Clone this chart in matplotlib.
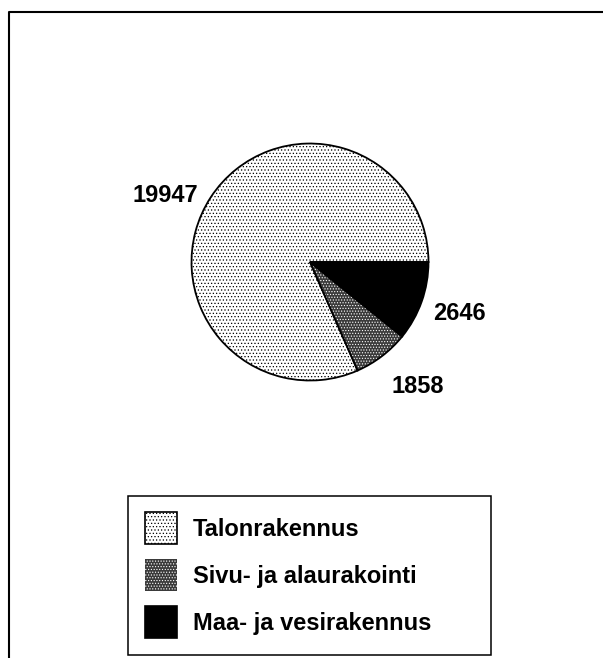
import numpy as np
import matplotlib
matplotlib.use("Agg")
import matplotlib.pyplot as plt
import matplotlib.patches as mpatches
from matplotlib.lines import Line2D

plt.rcParams["font.family"] = ["Liberation Sans", "DejaVu Sans"]
plt.rcParams["hatch.linewidth"] = 0.5

# data
categories = ["Talonrakennus", "Sivu- ja alaurakointi", "Maa- ja vesirakennus"]
values = [19947, 1858, 2646]
value_labels = ["19947", "1858", "2646"]

fills = ["white", "#3a3a3a", "black"]
hatches = [".....", "......", None]
# where the numbers sit (pie data coords, x / baseline y)
label_xy = [(-0.945, 0.506), (0.692, -1.105), (1.038, -0.489)]
label_ha = ["right", "left", "left"]

fig = plt.figure(figsize=(6.03, 6.58), dpi=100)
ax = fig.add_axes([0.3176, 0.4217, 0.3930, 0.3602])

wedges, _ = ax.pie(values, colors=fills, startangle=0, counterclock=True,
                   wedgeprops=dict(edgecolor="black", linewidth=1.3))
for w, h in zip(wedges, hatches):
    if h:
        w.set_hatch(h)

# gray slice gets white dots -> hatch colour follows edgecolor, so redraw outline
g = wedges[1]
g.set_edgecolor("white")
g.set_linewidth(0)
ax.add_patch(mpatches.Wedge(g.center, g.r, g.theta1, g.theta2, fill=False,
                            edgecolor="black", linewidth=1.3))

ax.set_xlim(-1, 1)
ax.set_ylim(-1, 1)
ax.set_aspect("equal")
ax.axis("off")

for (x, y), txt, ha in zip(label_xy, value_labels, label_ha):
    ax.text(x, y, txt, ha=ha, va="baseline", fontsize=17, fontweight="bold",
            clip_on=False)

# legend
handles = [
    mpatches.Patch(facecolor=fills[0], edgecolor="black", linewidth=1.2, hatch=hatches[0]),
    mpatches.Patch(facecolor=fills[1], edgecolor="white", linewidth=0, hatch=hatches[1]),
    mpatches.Patch(facecolor=fills[2], edgecolor="black", linewidth=1.2),
]
fig.legend(handles, categories, loc="upper left", bbox_to_anchor=(145 / 603, 1 - 512 / 658),
           frameon=False, borderpad=0, borderaxespad=0,
           prop=dict(size=17, weight="bold"),
           handlelength=1.356, handleheight=1.709, handletextpad=0.68, labelspacing=0.636)
fig.add_artist(mpatches.Rectangle((128 / 603, 1 - 655 / 658), 363 / 603, 159 / 658,
                                  fill=False, edgecolor="black", linewidth=1.1,
                                  transform=fig.transFigure))

# outer frame (cut off at right and bottom in the scan)
fx = 9 / 603
fy = 1 - 11.5 / 658
fig.add_artist(Line2D([fx, fx, 1], [0, fy, fy], color="black", linewidth=1.5,
                      transform=fig.transFigure))

fig.savefig("out.png", dpi=100)
